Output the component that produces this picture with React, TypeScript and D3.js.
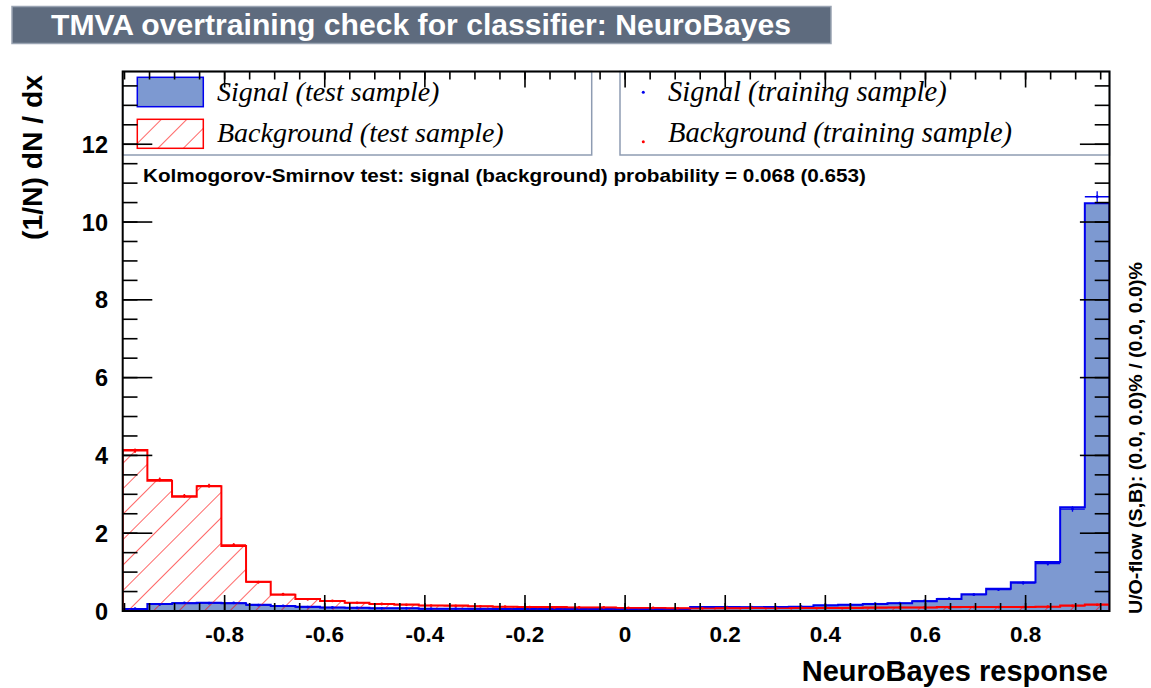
import React from 'react';
import * as d3 from 'd3';

// histogram binning (NeuroBayes response)
const xMin = -1.0036;
const xMax = 0.9676;
const nBins = 40;

// signal / background, test sample (normalised)
const sigTest = [0.05, 0.18, 0.2, 0.21, 0.2, 0.16, 0.13, 0.11, 0.09, 0.085, 0.07, 0.07, 0.06, 0.06, 0.06, 0.05, 0.05, 0.05, 0.05, 0.05, 0.05, 0.05, 0.05, 0.1, 0.1, 0.095, 0.1, 0.11, 0.15, 0.16, 0.18, 0.2, 0.25, 0.31, 0.43, 0.57, 0.74, 1.26, 2.67, 10.48];
const bkgTest = [4.14, 3.35, 2.94, 3.21, 1.67, 0.75, 0.42, 0.31, 0.26, 0.21, 0.18, 0.17, 0.14, 0.14, 0.12, 0.11, 0.1, 0.1, 0.09, 0.09, 0.08, 0.08, 0.07, 0.07, 0.07, 0.08, 0.08, 0.08, 0.08, 0.08, 0.09, 0.09, 0.09, 0.1, 0.1, 0.1, 0.1, 0.11, 0.14, 0.17];

// training sample points + errors
const sigTrain = [0.06, 0.17, 0.21, 0.2, 0.21, 0.15, 0.13, 0.1, 0.09, 0.08, 0.07, 0.07, 0.06, 0.06, 0.05, 0.05, 0.05, 0.05, 0.05, 0.05, 0.05, 0.05, 0.06, 0.09, 0.1, 0.1, 0.1, 0.11, 0.14, 0.16, 0.19, 0.2, 0.26, 0.32, 0.42, 0.55, 0.72, 1.22, 2.62, 10.65];
const sigTrainErr = [0.01, 0.02, 0.02, 0.02, 0.02, 0.02, 0.02, 0.01, 0.01, 0.01, 0.01, 0.01, 0.01, 0.01, 0.01, 0.01, 0.01, 0.01, 0.01, 0.01, 0.01, 0.01, 0.01, 0.01, 0.01, 0.01, 0.01, 0.01, 0.02, 0.02, 0.02, 0.02, 0.02, 0.02, 0.03, 0.03, 0.04, 0.05, 0.07, 0.14];
const bkgTrain = [4.12, 3.38, 2.96, 3.22, 1.7, 0.74, 0.43, 0.3, 0.26, 0.21, 0.18, 0.16, 0.14, 0.13, 0.12, 0.11, 0.1, 0.09, 0.09, 0.09, 0.08, 0.08, 0.07, 0.07, 0.08, 0.08, 0.07, 0.08, 0.08, 0.09, 0.08, 0.09, 0.09, 0.09, 0.1, 0.1, 0.1, 0.11, 0.13, 0.16];
const bkgTrainErr = [0.06, 0.05, 0.05, 0.05, 0.04, 0.03, 0.02, 0.02, 0.02, 0.01, 0.01, 0.01, 0.01, 0.01, 0.01, 0.01, 0.01, 0.01, 0.01, 0.01, 0.01, 0.01, 0.01, 0.01, 0.01, 0.01, 0.01, 0.01, 0.01, 0.01, 0.01, 0.01, 0.01, 0.01, 0.01, 0.01, 0.01, 0.01, 0.02, 0.02];

const xTickValues = [-0.8, -0.6, -0.4, -0.2, 0, 0.2, 0.4, 0.6, 0.8];
const xTickLabels = ['-0.8', '-0.6', '-0.4', '-0.2', '0', '0.2', '0.4', '0.6', '0.8'];
const yTickValues = [0, 2, 4, 6, 8, 10, 12];
const yTickLabels = ['0', '2', '4', '6', '8', '10', '12'];

const W = 1151;
const H = 688;
const left = 122.7, right = 1109.5, top = 71.5, bottom = 611;
const yMax = 13.87;

const SIG_FILL = '#7d99d1';
const SIG_LINE = '#0000ee';
const BKG_LINE = '#ff0000';
const SANS = '"Liberation Sans", Arial, Helvetica, sans-serif';
const SERIF = '"Liberation Serif", "Times New Roman", serif';

export default function App() {
  const x = d3.scaleLinear().domain([xMin, xMax]).range([left, right]);
  const y = d3.scaleLinear().domain([0, yMax]).range([bottom, top]);
  const bw = (xMax - xMin) / nBins;
  const edges = d3.range(nBins + 1).map(i => xMin + i * bw);

  const histPts = (vals: number[]) => {
    const pts = vals.map((v, i) => ({ x: edges[i], v }));
    pts.push({ x: edges[nBins], v: vals[nBins - 1] });
    return pts;
  };
  const area = d3.area<{ x: number; v: number }>()
    .curve(d3.curveStepAfter)
    .x(d => x(d.x))
    .y0(y(0))
    .y1(d => y(d.v));

  const xMinor = d3.range(-1.0, 0.96, 0.05).filter(v => x(v) > left + 0.5 && x(v) < right - 0.5);
  const yMinor = d3.range(0, yMax, 0.5);

  const trainMarks = (vals: number[], errs: number[], color: string) =>
    vals.map((v, i) => {
      const cx = x(edges[i] + bw / 2);
      return (
        <g key={i} stroke={color} strokeWidth={1.3}>
          <line x1={x(edges[i])} x2={x(edges[i + 1])} y1={y(v)} y2={y(v)} />
          <line x1={cx} x2={cx} y1={y(v - errs[i])} y2={y(v + errs[i])} />
          <circle cx={cx} cy={y(v)} r={1.4} fill={color} stroke="none" />
        </g>
      );
    });

  return (
    <svg width={W} height={H} style={{ position: 'absolute', left: 0, top: 0, background: '#fff' }}>
      <defs>
        <pattern id="hatch" patternUnits="userSpaceOnUse" width={18} height={18} patternTransform="rotate(45)">
          <line x1={0} y1={0} x2={0} y2={18} stroke={BKG_LINE} strokeWidth={1.2} />
        </pattern>
        <clipPath id="frame">
          <rect x={left} y={top} width={right - left} height={bottom - top} />
        </clipPath>
      </defs>

      {/* title */}
      <rect x={12} y={6.5} width={819} height={37} fill="#5e6b7e" stroke="#9aa4b3" strokeWidth={1.5} />
      <text x={421} y={34.5} textAnchor="middle" fill="#fff" fontFamily={SANS} fontWeight="bold" fontSize={30}
        textLength={740} lengthAdjust="spacingAndGlyphs">TMVA overtraining check for classifier: NeuroBayes</text>

      {/* histograms */}
      <g clipPath="url(#frame)">
        <path d={area(histPts(sigTest)) || ''} fill={SIG_FILL} stroke={SIG_LINE} strokeWidth={2} />
        <path d={area(histPts(bkgTest)) || ''} fill="url(#hatch)" stroke={BKG_LINE} strokeWidth={2} />
        {trainMarks(sigTrain, sigTrainErr, SIG_LINE)}
        {trainMarks(bkgTrain, bkgTrainErr, BKG_LINE)}
      </g>

      {/* legends */}
      <rect x={left} y={top} width={591.7 - left} height={155 - top} fill="#fff" stroke="#8e9cb2" strokeWidth={1.5} />
      <rect x={137.3} y={77.3} width={66} height={29.4} fill={SIG_FILL} stroke={SIG_LINE} strokeWidth={1.5} />
      <rect x={137.3} y={119.3} width={66} height={29} fill="url(#hatch)" stroke={BKG_LINE} strokeWidth={1.5} />
      <text x={217} y={101} fontFamily={SERIF} fontStyle="italic" fontSize={28}>Signal (test sample)</text>
      <text x={217} y={142} fontFamily={SERIF} fontStyle="italic" fontSize={28}>Background (test sample)</text>

      <rect x={620} y={top} width={right - 620} height={155 - top} fill="#fff" stroke="#8e9cb2" strokeWidth={1.5} />
      <circle cx={643.3} cy={92.3} r={1.5} fill={SIG_LINE} />
      <circle cx={643.3} cy={141.7} r={1.5} fill={BKG_LINE} />
      <text x={668} y={101} fontFamily={SERIF} fontStyle="italic" fontSize={28.5}>Signal (training sample)</text>
      <text x={668} y={142} fontFamily={SERIF} fontStyle="italic" fontSize={28.5}>Background (training sample)</text>

      <text x={143} y={182} fontFamily={SANS} fontWeight="bold" fontSize={19} textLength={723} lengthAdjust="spacingAndGlyphs">
        Kolmogorov-Smirnov test: signal (background) probability = 0.068 (0.653)
      </text>

      {/* axes ticks */}
      <g stroke="#000" strokeWidth={1.6}>
        {xTickValues.map(v => (
          <g key={'xM' + v}>
            <line x1={x(v)} x2={x(v)} y1={bottom} y2={bottom - 16} />
            <line x1={x(v)} x2={x(v)} y1={top} y2={top + 16} />
          </g>
        ))}
        {xMinor.map(v => (
          <g key={'xm' + v}>
            <line x1={x(v)} x2={x(v)} y1={bottom} y2={bottom - 8} />
            <line x1={x(v)} x2={x(v)} y1={top} y2={top + 8} />
          </g>
        ))}
        {yTickValues.map(v => (
          <g key={'yM' + v}>
            <line x1={left} x2={left + 29.6} y1={y(v)} y2={y(v)} />
            <line x1={right} x2={right - 29.6} y1={y(v)} y2={y(v)} />
          </g>
        ))}
        {yMinor.map(v => (
          <g key={'ym' + v}>
            <line x1={left} x2={left + 14.8} y1={y(v)} y2={y(v)} />
            <line x1={right} x2={right - 14.8} y1={y(v)} y2={y(v)} />
          </g>
        ))}
      </g>
      <rect x={left} y={top} width={right - left} height={bottom - top} fill="none" stroke="#000" strokeWidth={2} />

      {/* tick labels */}
      {xTickValues.map((v, i) => (
        <text key={'xl' + v} x={x(v)} y={641.5} textAnchor="middle" fontFamily={SANS} fontWeight="bold" fontSize={22.5}>
          {xTickLabels[i]}
        </text>
      ))}
      {yTickValues.map((v, i) => (
        <text key={'yl' + v} x={108} y={y(v) + 8.5} textAnchor="end" fontFamily={SANS} fontWeight="bold" fontSize={23.5}>
          {yTickLabels[i]}
        </text>
      ))}

      {/* axis titles */}
      <text x={1108} y={681} textAnchor="end" fontFamily={SANS} fontWeight="bold" fontSize={29}>NeuroBayes response</text>
      <text transform="translate(42,75) rotate(-90)" textAnchor="end" fontFamily={SANS} fontWeight="bold" fontSize={28}
        textLength={165} lengthAdjust="spacingAndGlyphs">
        (1/N) dN / dx
      </text>
      <text transform="translate(1142,614) rotate(-90)" textAnchor="start" fontFamily={SANS} fontWeight="bold" fontSize={17.5}
        textLength={352} lengthAdjust="spacingAndGlyphs">
        U/O-flow (S,B): (0.0, 0.0)% / (0.0, 0.0)%
      </text>
    </svg>
  );
}
